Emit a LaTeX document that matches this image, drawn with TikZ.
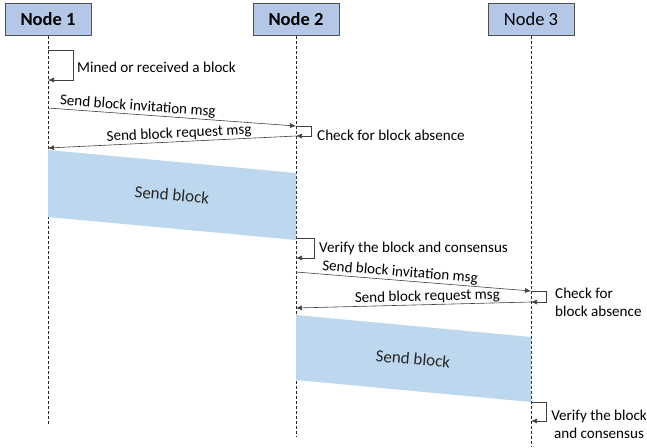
\documentclass[tikz,border=0pt]{standalone}
\usepackage{fontspec}
\setmainfont{Carlito}
\usetikzlibrary{arrows.meta}
\definecolor{hdr}{HTML}{B4C7E7}
\definecolor{blk}{HTML}{BDD7EE}
\definecolor{hdrline}{HTML}{505050}
\begin{document}
\begin{tikzpicture}[x=1pt,y=-1pt,
 header/.style={draw=hdrline, fill=hdr, line width=1pt, minimum width=86pt, minimum height=32pt, font=\fontsize{18.5}{22}\selectfont, inner sep=0pt},
 life/.style={draw=black!85, dash pattern=on 3pt off 2pt, line width=0.8pt},
 msg/.style={draw=black!75, line width=0.6pt, -{Latex[length=6pt,width=5pt]}},
 lbl/.style={font=\fontsize{15.1}{18}\selectfont, inner sep=1pt, text=black},
 blocklbl/.style={font=\fontsize{17}{20}\selectfont, text=black!85},
 blockpar/.style={fill=blk, draw=none},
]
\useasboundingbox (0,0) rectangle (647,447);
% headers
\node[header] (h1) at (48,19) {\bfseries Node 1};
\node[header] (h2) at (296,19) {\bfseries Node 2};
\node[header] (h3) at (531,19) {Node 3};
% lifeline ends
\coordinate (e1) at (48,425);
\coordinate (e2) at (296,437);
\coordinate (e3) at (531,447);
\draw[life] (h1.south) -- (e1);
\draw[life] (h2.south) -- (e2);
\draw[life] (h3.south) -- (e3);
% points on lifelines
\coordinate (a1) at (48,50);  \coordinate (a2) at (48,80);
\coordinate (b1) at (48,108); \coordinate (b2) at (296,126);
\coordinate (c1) at (296,126); \coordinate (c2) at (296,136);
\coordinate (d1) at (296,136); \coordinate (d2) at (48,148);
\coordinate (p1) at (48,150); \coordinate (p2) at (296,173); \coordinate (p3) at (296,240); \coordinate (p4) at (48,217);
\coordinate (f1) at (296,238); \coordinate (f2) at (296,258);
\coordinate (g1) at (296,272); \coordinate (g2) at (531,291);
\coordinate (k1) at (531,291); \coordinate (k2) at (531,302);
\coordinate (l1) at (531,302); \coordinate (l2) at (296,308);
\coordinate (q1) at (296,315); \coordinate (q2) at (531,337); \coordinate (q3) at (531,402); \coordinate (q4) at (296,380);
\coordinate (r1) at (531,402); \coordinate (r2) at (531,421);
% send block areas
\fill[blockpar] (p1) -- (p2) -- (p3) -- (p4) -- cycle;
\node[blocklbl, rotate=-5] (sb1) at (172,195) {Send block};
\fill[blockpar] (q1) -- (q2) -- (q3) -- (q4) -- cycle;
\node[blocklbl, rotate=-5] (sb2) at (413,359) {Send block};
% self loops
\draw[msg] (a1) -- ++(25,0) -- ++(0,30) -- (a2);
\node[lbl, anchor=west] (t1) at (76,67) {Mined or received a block};
\draw[msg] (c1) -- ++(15,0) -- ++(0,10) -- (c2);
\node[lbl, anchor=west] (t2) at (316,135) {Check for block absence};
\draw[msg] (f1) -- ++(18,0) -- ++(0,20) -- (f2);
\node[lbl, anchor=west] (t3) at (318,248) {Verify the block and consensus};
\draw[msg] (k1) -- ++(15,0) -- ++(0,11) -- (k2);
\node[lbl, anchor=west, align=left] (t4) at (554,302) {Check for\\block absence};
\draw[msg] (r1) -- ++(15,0) -- ++(0,19) -- (r2);
\node[lbl, align=center, anchor=east] (t5) at (648,424) {Verify the block\\and consensus};
% messages
\draw[msg] (b1) -- node[lbl, sloped, above, pos=0.36] {Send block invitation msg} (b2);
\draw[msg] (d1) -- node[lbl, sloped, above, pos=0.47] {Send block request msg} (d2);
\draw[msg] (g1) -- node[lbl, sloped, above, pos=0.44] {Send block invitation msg} (g2);
\draw[msg] (l1) -- node[lbl, sloped, above, pos=0.44] {Send block request msg} (l2);
\end{tikzpicture}
\end{document}
